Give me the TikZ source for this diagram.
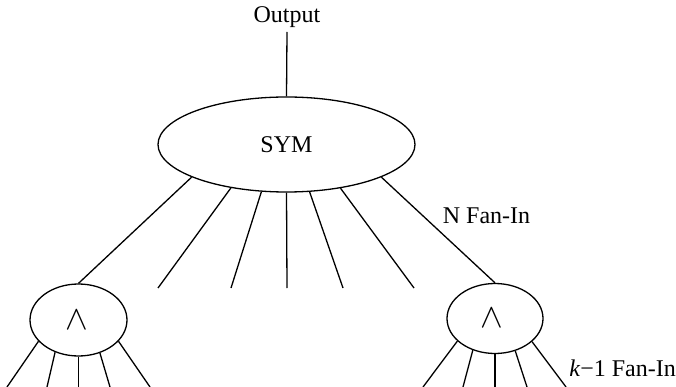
\documentclass[tikz,border=0pt]{standalone}
\usepackage{fontspec}
\setmainfont{Liberation Serif}
\usetikzlibrary{shapes.geometric}
\begin{document}
\begin{tikzpicture}[x=1pt,y=-1pt,
  wire/.style={line width=1.3pt},
  gate/.style={draw,ellipse,line width=1.3pt,inner sep=0pt},
  lbl/.style={font=\fontsize{24}{28}\selectfont,inner sep=0pt},
  wedgelbl/.style={inner sep=0pt}]
\useasboundingbox (0,0) rectangle (676,387);
\node[lbl] (out) at (287,17) {Output};
\node[gate,minimum width=257pt,minimum height=95pt,font=\fontsize{24}{28}\selectfont] (sym) at (286.5,144.5) {SYM};
\node[gate,minimum width=97pt,minimum height=72pt] (andL) at (78.5,320) {};
\node[gate,minimum width=96pt,minimum height=70pt] (andR) at (495,318.5) {};
\node[wedgelbl] (wL) at (77,320) {\scalebox{3.4}{$\wedge$}};
\node[wedgelbl] (wR) at (492,318.5) {\scalebox{3.4}{$\wedge$}};
\coordinate (outb) at (287,32);
\draw[wire] (outb) -- (sym.north);
% SYM fan-in
\coordinate (e2) at (158,288);
\coordinate (e3) at (231,288);
\coordinate (e4) at (287,288);
\coordinate (e5) at (343,288);
\coordinate (e6) at (414,288);
\draw[wire] (sym.199) -- (andL.north);
\draw[wire] (sym.218.6) -- (e2);
\draw[wire] (sym.242.2) -- (e3);
\draw[wire] (sym.270) -- (e4);
\draw[wire] (sym.296.8) -- (e5);
\draw[wire] (sym.321.9) -- (e6);
\draw[wire] (sym.341) -- (andR.north);
% left gate inputs
\coordinate (l1) at (7,387);
\coordinate (l2) at (47,387);
\coordinate (l3) at (78.5,387);
\coordinate (l4) at (110,387);
\coordinate (l5) at (150,387);
\draw[wire] (andL.208.5) -- (l1);
\draw[wire] (andL.234.5) -- (l2);
\draw[wire] (andL.south) -- (l3);
\draw[wire] (andL.303) -- (l4);
\draw[wire] (andL.332) -- (l5);
% right gate inputs
\coordinate (r1) at (423,387);
\coordinate (r2) at (463,387);
\coordinate (r3) at (495,387);
\coordinate (r4) at (527,387);
\coordinate (r5) at (566,387);
\draw[wire] (andR.211.5) -- (r1);
\draw[wire] (andR.235) -- (r2);
\draw[wire] (andR.south) -- (r3);
\draw[wire] (andR.302.5) -- (r4);
\draw[wire] (andR.328.5) -- (r5);
\node[lbl] (nfan) at (486.5,216) {N Fan-In};
\node[lbl,anchor=east] (kfan) at (676,368) {\textit{k}−1 Fan-In};
\end{tikzpicture}
\end{document}
